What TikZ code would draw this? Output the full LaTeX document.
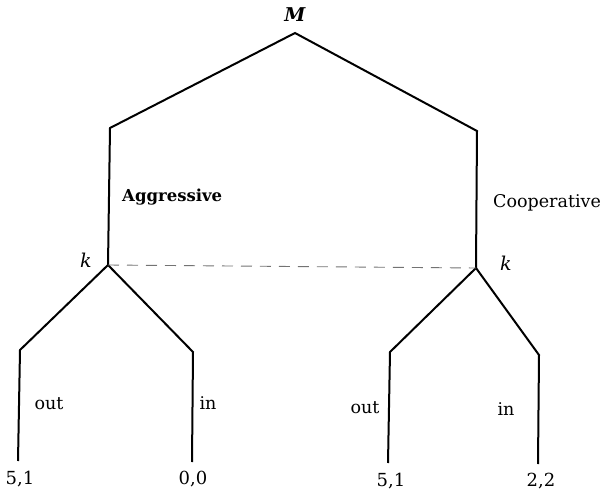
\documentclass[tikz,border=0pt]{standalone}
\usepackage{fontspec}
\setmainfont{DejaVu Serif}
\begin{document}
\begin{tikzpicture}[x=1pt,y=-1pt,
  branch/.style={line width=2pt, line join=miter},
  infoset/.style={line width=0.9pt, black!55, dash pattern=on 11pt off 8pt},
  lab/.style={font=\fontsize{17.5}{20}\selectfont, inner sep=0pt},
  pay/.style={font=\fontsize{18}{20}\selectfont, inner sep=0pt},
  player/.style={font=\fontsize{19}{21}\selectfont\itshape, inner sep=0pt}]
\useasboundingbox (0,0) rectangle (608,495);
% decision nodes
\coordinate (M) at (295,33);
\coordinate (aggbend) at (110,128);
\coordinate (coobend) at (477,131);
\coordinate (kL) at (108,265);
\coordinate (kR) at (476,268);
% bends and leaves below the left k
\coordinate (Lout) at (20,350);
\coordinate (Lin) at (193,352);
\coordinate (LoutEnd) at (18,461);
\coordinate (LinEnd) at (192,462);
% bends and leaves below the right k
\coordinate (Rout) at (390,352);
\coordinate (Rin) at (539,355);
\coordinate (RoutEnd) at (388,463);
\coordinate (RinEnd) at (538,464);
% branches
\draw[branch] (kL) -- (aggbend) -- (M) -- (coobend) -- (kR);
\draw[branch] (LoutEnd) -- (Lout) -- (kL) -- (Lin) -- (LinEnd);
\draw[branch] (RoutEnd) -- (Rout) -- (kR) -- (Rin) -- (RinEnd);
% information set
\draw[infoset] (kL) -- (kR);
% labels
\node[player, font=\fontsize{19}{21}\selectfont\itshape\bfseries] (mlab) at (295,15) {M};
\node[player] (kLlab) at (86,260) {k};
\node[player] (kRlab) at (506,263) {k};
\node[lab, anchor=west, font=\fontsize{16.5}{20}\selectfont\bfseries] (agg) at (122,197) {Aggressive};
\node[lab, anchor=west] (coo) at (493,203) {Cooperative};
\node[lab] (o1) at (49,404) {out};
\node[lab] (i1) at (208,403) {in};
\node[lab] (o2) at (365,408) {out};
\node[lab] (i2) at (506,409) {in};
\node[pay] (p1) at (20,479) {5,1};
\node[pay] (p2) at (193,479) {0,0};
\node[pay] (p3) at (391,481) {5,1};
\node[pay] (p4) at (541,481) {2,2};
\end{tikzpicture}
\end{document}
